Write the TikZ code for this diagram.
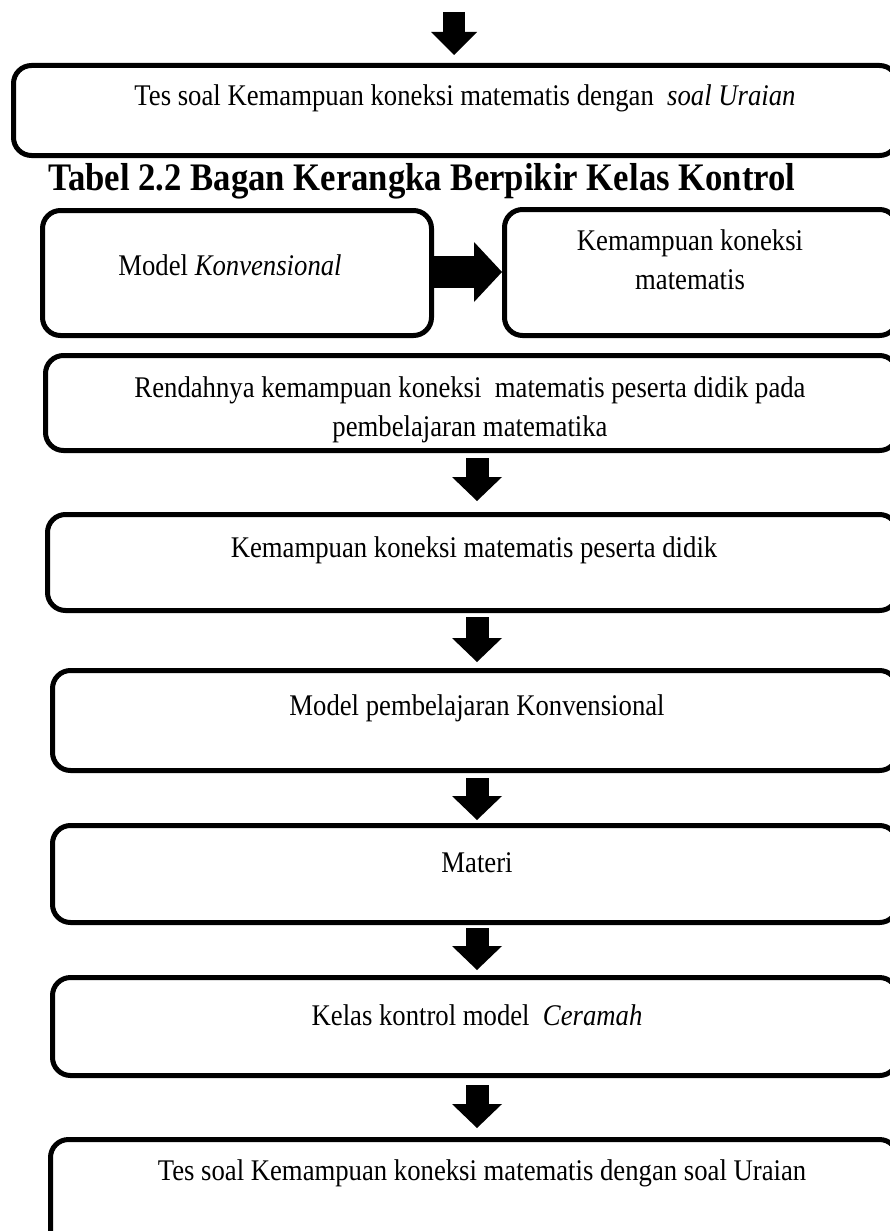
\documentclass[tikz,border=0pt]{standalone}
\usepackage{fontspec}
\setmainfont{Liberation Serif}[FakeStretch=0.89]
\usetikzlibrary{arrows.meta}
\begin{document}
\begin{tikzpicture}[x=1pt,y=-1pt,
  box/.style={draw, line width=5pt, rounded corners=18pt, anchor=north west, inner sep=0pt},
  txt/.style={font=\fontsize{30}{39}\selectfont, align=center, inner sep=0pt},
  downarr/.style={line width=23pt, -{Triangle[length=24pt 0, width=50pt 0, line width=0pt 0]}},
  toparr/.style={line width=22pt, -{Triangle[length=23pt 0, width=46pt 0, line width=0pt 0]}},
  rightarr/.style={line width=32pt, -{Triangle[length=28pt 0, width=60pt 0, line width=0pt 0]}}]
\useasboundingbox (0,0) rectangle (890,1231);
\clip (0,0) rectangle (890,1231);
% boxes
\node[box, minimum width=884pt, minimum height=90pt]  (b1) at (11,63) {};
\node[box, minimum width=389pt, minimum height=125pt] (b2) at (40,208) {};
\node[box, minimum width=393pt, minimum height=126pt] (b3) at (502,207) {};
\node[box, minimum width=852pt, minimum height=95pt]  (b4) at (43,353) {};
\node[box, minimum width=850pt, minimum height=96pt]  (b5) at (45,512) {};
\node[box, minimum width=845pt, minimum height=100pt] (b6) at (50,668) {};
\node[box, minimum width=845pt, minimum height=97pt]  (b7) at (50,823) {};
\node[box, minimum width=845pt, minimum height=98pt]  (b8) at (50,975) {};
\node[box, minimum width=847pt, minimum height=118pt] (b9) at (48,1137) {};
% texts
\node[txt] (t1) at (465,98) {Tes soal Kemampuan koneksi matematis dengan \ \textit{soal Uraian}};
\node[anchor=west, inner sep=0pt, font=\fontsize{39}{44}\selectfont\bfseries] (title) at (48,181) {Tabel 2.2 Bagan Kerangka Berpikir Kelas Kontrol};
\node[txt] (t2) at (230,265) {Model \textit{Konvensional}};
\node[txt] (t3) at (690,260) {Kemampuan koneksi\\matematis};
\node[txt] (t4) at (470,410) {Rendahnya kemampuan koneksi \ matematis peserta didik pada\\pembelajaran matematika};
\node[txt] (t5) at (474,550) {Kemampuan koneksi matematis peserta didik};
\node[txt] (t6) at (477,708) {Model pembelajaran Konvensional};
\node[txt] (t7) at (477,863) {Materi};
\node[txt] (t8) at (477,1015) {Kelas kontrol model \ \textit{Ceramah}};
\node[txt] (t9) at (482,1173) {Tes soal Kemampuan koneksi matematis dengan soal Uraian};
% connectors
\coordinate (topstart) at (454,12);
\coordinate (ax) at (477,0);
\coordinate (hy) at (0,272);
\draw[toparr, shorten >=8pt] (topstart) -- (b1.north -| topstart);
\draw[rightarr] (b2.east |- hy) -- (b3.west |- hy);
\draw[downarr, shorten <=5pt, shorten >=11pt] (b4.south -| ax) -- (b5.north -| ax);
\draw[downarr, shorten <=4pt, shorten >=6pt] (b5.south -| ax) -- (b6.north -| ax);
\draw[downarr, shorten <=5pt, shorten >=3pt] (b6.south -| ax) -- (b7.north -| ax);
\draw[downarr, shorten <=3pt, shorten >=5pt] (b7.south -| ax) -- (b8.north -| ax);
\draw[downarr, shorten <=7pt, shorten >=9pt] (b8.south -| ax) -- (b9.north -| ax);
\end{tikzpicture}
\end{document}
